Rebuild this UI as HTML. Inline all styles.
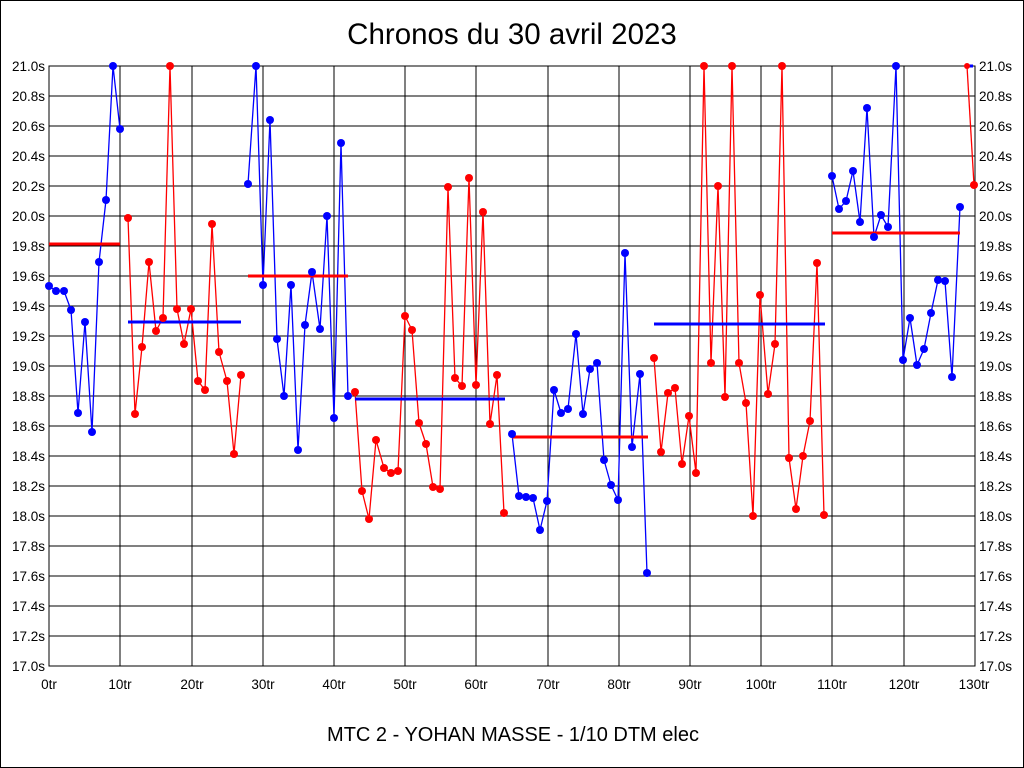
<!DOCTYPE html>
<html><head><meta charset="utf-8"><style>html,body{margin:0;padding:0;background:#fff}svg{display:block}</style></head>
<body>
<svg width="1024" height="768" xmlns="http://www.w3.org/2000/svg" font-family="Liberation Sans, Arial, sans-serif">
<rect x="0.5" y="0.5" width="1023" height="767" fill="#fff" stroke="#000" stroke-width="1"/>
<text x="512" y="44" font-size="29.5" text-anchor="middle">Chronos du 30 avril 2023</text>
<text x="513" y="741" font-size="20" text-anchor="middle">MTC 2 - YOHAN MASSE - 1/10 DTM elec</text>
<g stroke="#000" stroke-width="1" shape-rendering="crispEdges">
<line x1="49" y1="96" x2="975" y2="96"/><line x1="49" y1="126" x2="975" y2="126"/><line x1="49" y1="156" x2="975" y2="156"/><line x1="49" y1="186" x2="975" y2="186"/><line x1="49" y1="216" x2="975" y2="216"/><line x1="49" y1="246" x2="975" y2="246"/><line x1="49" y1="276" x2="975" y2="276"/><line x1="49" y1="306" x2="975" y2="306"/><line x1="49" y1="336" x2="975" y2="336"/><line x1="49" y1="366" x2="975" y2="366"/><line x1="49" y1="396" x2="975" y2="396"/><line x1="49" y1="426" x2="975" y2="426"/><line x1="49" y1="456" x2="975" y2="456"/><line x1="49" y1="486" x2="975" y2="486"/><line x1="49" y1="516" x2="975" y2="516"/><line x1="49" y1="546" x2="975" y2="546"/><line x1="49" y1="576" x2="975" y2="576"/><line x1="49" y1="606" x2="975" y2="606"/><line x1="49" y1="636" x2="975" y2="636"/>
<line x1="120" y1="66" x2="120" y2="666"/><line x1="192" y1="66" x2="192" y2="666"/><line x1="263" y1="66" x2="263" y2="666"/><line x1="334" y1="66" x2="334" y2="666"/><line x1="405" y1="66" x2="405" y2="666"/><line x1="476" y1="66" x2="476" y2="666"/><line x1="548" y1="66" x2="548" y2="666"/><line x1="619" y1="66" x2="619" y2="666"/><line x1="690" y1="66" x2="690" y2="666"/><line x1="761" y1="66" x2="761" y2="666"/><line x1="832" y1="66" x2="832" y2="666"/><line x1="904" y1="66" x2="904" y2="666"/>
<rect x="49" y="66" width="926" height="600" fill="none"/>
</g>
<g font-size="13.5" text-anchor="end">
<text x="45" y="71">21.0s</text><text x="45" y="101">20.8s</text><text x="45" y="131">20.6s</text><text x="45" y="161">20.4s</text><text x="45" y="191">20.2s</text><text x="45" y="221">20.0s</text><text x="45" y="251">19.8s</text><text x="45" y="281">19.6s</text><text x="45" y="311">19.4s</text><text x="45" y="341">19.2s</text><text x="45" y="371">19.0s</text><text x="45" y="401">18.8s</text><text x="45" y="431">18.6s</text><text x="45" y="461">18.4s</text><text x="45" y="491">18.2s</text><text x="45" y="521">18.0s</text><text x="45" y="551">17.8s</text><text x="45" y="581">17.6s</text><text x="45" y="611">17.4s</text><text x="45" y="641">17.2s</text><text x="45" y="671">17.0s</text>
</g>
<g font-size="13.5" text-anchor="start">
<text x="979" y="71">21.0s</text><text x="979" y="101">20.8s</text><text x="979" y="131">20.6s</text><text x="979" y="161">20.4s</text><text x="979" y="191">20.2s</text><text x="979" y="221">20.0s</text><text x="979" y="251">19.8s</text><text x="979" y="281">19.6s</text><text x="979" y="311">19.4s</text><text x="979" y="341">19.2s</text><text x="979" y="371">19.0s</text><text x="979" y="401">18.8s</text><text x="979" y="431">18.6s</text><text x="979" y="461">18.4s</text><text x="979" y="491">18.2s</text><text x="979" y="521">18.0s</text><text x="979" y="551">17.8s</text><text x="979" y="581">17.6s</text><text x="979" y="611">17.4s</text><text x="979" y="641">17.2s</text><text x="979" y="671">17.0s</text>
</g>
<g font-size="13.5" text-anchor="middle">
<text x="49" y="689">0tr</text><text x="120" y="689">10tr</text><text x="192" y="689">20tr</text><text x="263" y="689">30tr</text><text x="334" y="689">40tr</text><text x="405" y="689">50tr</text><text x="476" y="689">60tr</text><text x="548" y="689">70tr</text><text x="619" y="689">80tr</text><text x="690" y="689">90tr</text><text x="761" y="689">100tr</text><text x="832" y="689">110tr</text><text x="904" y="689">120tr</text><text x="974" y="689">130tr</text>
</g>
<g fill="none" stroke-width="1.3" stroke-linejoin="round">
<polyline stroke="#00f" points="49,286 56,291 64,291 71,310 78,413 85,322 92,432 99,262 106,200 113,66 120,129"/>
<polyline stroke="#f00" points="128,218 135,414 142,347 149,262 156,331 163,318 170,66 177,309 184,344 191,309 198,381 205,390 212,224 219,352 227,381 234,454 241,375"/>
<polyline stroke="#00f" points="248,184 256,66 263,285 270,120 277,339 284,396 291,285 298,450 305,325 312,272 320,329 327,216 334,418 341,143 348,396"/>
<polyline stroke="#f00" points="355,392 362,491 369,519 376,440 384,468 391,473 398,471 405,316 412,330 419,423 426,444 433,487 440,489 448,187 455,378 462,386 469,178 476,385 483,212 490,424 497,375 504,513"/>
<polyline stroke="#00f" points="512,434 519,496 526,497 533,498 540,530 547,501 554,390 561,413 568,409 576,334 583,414 590,369 597,363 604,460 611,485 618,500 625,253 632,447 640,374 647,573"/>
<polyline stroke="#f00" points="654,358 661,452 668,393 675,388 682,464 689,416 696,473 704,66 711,363 718,186 725,397 732,66 739,363 746,403 753,516 760,295 768,394 775,344 782,66 789,458 796,509 803,456 810,421 817,263 824,515"/>
<polyline stroke="#00f" points="832,176 839,209 846,201 853,171 860,222 867,108 874,237 881,215 888,227 896,66 903,360 910,318 917,365 924,349 931,313 938,280 945,281 952,377 960,207"/>
<polyline stroke="#f00" points="967,66 974,185"/>
<line x1="967" y1="66" x2="973" y2="66" stroke="#00f" stroke-width="3"/>
</g>
<g stroke-width="3">
<line x1="49" y1="244" x2="120" y2="244" stroke="#f00"/>
<line x1="128" y1="322" x2="241" y2="322" stroke="#00f"/>
<line x1="248" y1="276" x2="348" y2="276" stroke="#f00"/>
<line x1="355" y1="399" x2="505" y2="399" stroke="#00f"/>
<line x1="512" y1="437" x2="648" y2="437" stroke="#f00"/>
<line x1="654" y1="324" x2="825" y2="324" stroke="#00f"/>
<line x1="832" y1="233" x2="960" y2="233" stroke="#f00"/>
</g>
<g fill="#00f">
<circle cx="49" cy="286" r="4"/><circle cx="56" cy="291" r="4"/><circle cx="64" cy="291" r="4"/><circle cx="71" cy="310" r="4"/><circle cx="78" cy="413" r="4"/><circle cx="85" cy="322" r="4"/><circle cx="92" cy="432" r="4"/><circle cx="99" cy="262" r="4"/><circle cx="106" cy="200" r="4"/><circle cx="113" cy="66" r="4"/><circle cx="120" cy="129" r="4"/>
<circle cx="248" cy="184" r="4"/><circle cx="256" cy="66" r="4"/><circle cx="263" cy="285" r="4"/><circle cx="270" cy="120" r="4"/><circle cx="277" cy="339" r="4"/><circle cx="284" cy="396" r="4"/><circle cx="291" cy="285" r="4"/><circle cx="298" cy="450" r="4"/><circle cx="305" cy="325" r="4"/><circle cx="312" cy="272" r="4"/><circle cx="320" cy="329" r="4"/><circle cx="327" cy="216" r="4"/><circle cx="334" cy="418" r="4"/><circle cx="341" cy="143" r="4"/><circle cx="348" cy="396" r="4"/>
<circle cx="512" cy="434" r="4"/><circle cx="519" cy="496" r="4"/><circle cx="526" cy="497" r="4"/><circle cx="533" cy="498" r="4"/><circle cx="540" cy="530" r="4"/><circle cx="547" cy="501" r="4"/><circle cx="554" cy="390" r="4"/><circle cx="561" cy="413" r="4"/><circle cx="568" cy="409" r="4"/><circle cx="576" cy="334" r="4"/><circle cx="583" cy="414" r="4"/><circle cx="590" cy="369" r="4"/><circle cx="597" cy="363" r="4"/><circle cx="604" cy="460" r="4"/><circle cx="611" cy="485" r="4"/><circle cx="618" cy="500" r="4"/><circle cx="625" cy="253" r="4"/><circle cx="632" cy="447" r="4"/><circle cx="640" cy="374" r="4"/><circle cx="647" cy="573" r="4"/>
<circle cx="832" cy="176" r="4"/><circle cx="839" cy="209" r="4"/><circle cx="846" cy="201" r="4"/><circle cx="853" cy="171" r="4"/><circle cx="860" cy="222" r="4"/><circle cx="867" cy="108" r="4"/><circle cx="874" cy="237" r="4"/><circle cx="881" cy="215" r="4"/><circle cx="888" cy="227" r="4"/><circle cx="896" cy="66" r="4"/><circle cx="903" cy="360" r="4"/><circle cx="910" cy="318" r="4"/><circle cx="917" cy="365" r="4"/><circle cx="924" cy="349" r="4"/><circle cx="931" cy="313" r="4"/><circle cx="938" cy="280" r="4"/><circle cx="945" cy="281" r="4"/><circle cx="952" cy="377" r="4"/><circle cx="960" cy="207" r="4"/>
</g>
<g fill="#f00">
<circle cx="128" cy="218" r="4"/><circle cx="135" cy="414" r="4"/><circle cx="142" cy="347" r="4"/><circle cx="149" cy="262" r="4"/><circle cx="156" cy="331" r="4"/><circle cx="163" cy="318" r="4"/><circle cx="170" cy="66" r="4"/><circle cx="177" cy="309" r="4"/><circle cx="184" cy="344" r="4"/><circle cx="191" cy="309" r="4"/><circle cx="198" cy="381" r="4"/><circle cx="205" cy="390" r="4"/><circle cx="212" cy="224" r="4"/><circle cx="219" cy="352" r="4"/><circle cx="227" cy="381" r="4"/><circle cx="234" cy="454" r="4"/><circle cx="241" cy="375" r="4"/>
<circle cx="355" cy="392" r="4"/><circle cx="362" cy="491" r="4"/><circle cx="369" cy="519" r="4"/><circle cx="376" cy="440" r="4"/><circle cx="384" cy="468" r="4"/><circle cx="391" cy="473" r="4"/><circle cx="398" cy="471" r="4"/><circle cx="405" cy="316" r="4"/><circle cx="412" cy="330" r="4"/><circle cx="419" cy="423" r="4"/><circle cx="426" cy="444" r="4"/><circle cx="433" cy="487" r="4"/><circle cx="440" cy="489" r="4"/><circle cx="448" cy="187" r="4"/><circle cx="455" cy="378" r="4"/><circle cx="462" cy="386" r="4"/><circle cx="469" cy="178" r="4"/><circle cx="476" cy="385" r="4"/><circle cx="483" cy="212" r="4"/><circle cx="490" cy="424" r="4"/><circle cx="497" cy="375" r="4"/><circle cx="504" cy="513" r="4"/>
<circle cx="654" cy="358" r="4"/><circle cx="661" cy="452" r="4"/><circle cx="668" cy="393" r="4"/><circle cx="675" cy="388" r="4"/><circle cx="682" cy="464" r="4"/><circle cx="689" cy="416" r="4"/><circle cx="696" cy="473" r="4"/><circle cx="704" cy="66" r="4"/><circle cx="711" cy="363" r="4"/><circle cx="718" cy="186" r="4"/><circle cx="725" cy="397" r="4"/><circle cx="732" cy="66" r="4"/><circle cx="739" cy="363" r="4"/><circle cx="746" cy="403" r="4"/><circle cx="753" cy="516" r="4"/><circle cx="760" cy="295" r="4"/><circle cx="768" cy="394" r="4"/><circle cx="775" cy="344" r="4"/><circle cx="782" cy="66" r="4"/><circle cx="789" cy="458" r="4"/><circle cx="796" cy="509" r="4"/><circle cx="803" cy="456" r="4"/><circle cx="810" cy="421" r="4"/><circle cx="817" cy="263" r="4"/><circle cx="824" cy="515" r="4"/>
<circle cx="967" cy="66" r="3"/><circle cx="974" cy="185" r="4"/>
</g>
</svg>
</body></html>
